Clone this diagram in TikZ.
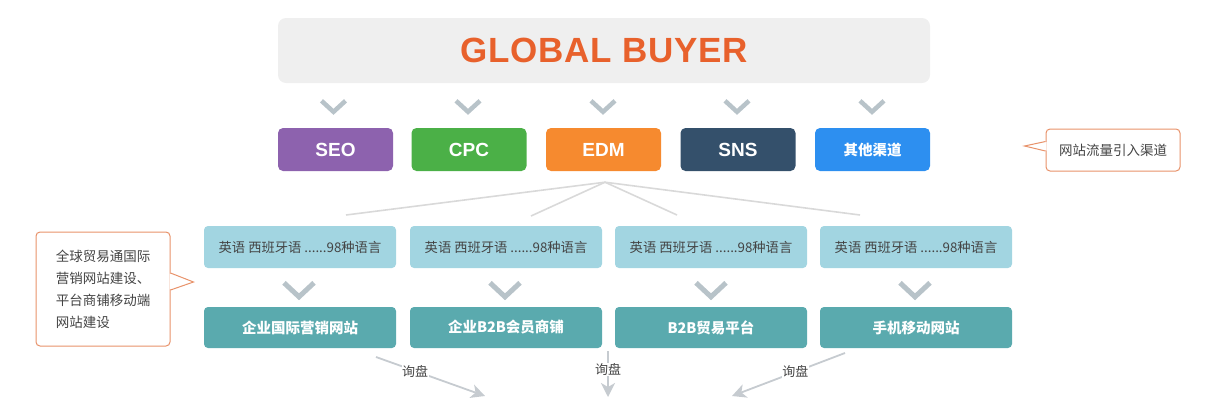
\documentclass[tikz,border=0pt]{standalone}
\usepackage{fontspec}
\setmainfont{Liberation Sans}
\newfontfamily\cjk{Noto Sans CJK SC}
\usetikzlibrary{calc,arrows.meta}

\definecolor{buyerorange}{HTML}{E8612C}
\definecolor{titlegray}{HTML}{EFEFEF}
\definecolor{seopurple}{HTML}{8D62AE}
\definecolor{cpcgreen}{HTML}{4BB047}
\definecolor{edmorange}{HTML}{F68A2F}
\definecolor{snsblue}{HTML}{34506B}
\definecolor{otherblue}{HTML}{2D8FF0}
\definecolor{langblue}{HTML}{A2D5E1}
\definecolor{siteteal}{HTML}{5AAAAE}
\definecolor{chevgray}{HTML}{B8C3C9}
\definecolor{fangray}{HTML}{D9D9D9}
\definecolor{askgray}{HTML}{C6CBD0}
\definecolor{callorange}{HTML}{E8926A}
\definecolor{textgray}{HTML}{444444}

\begin{document}
\begin{tikzpicture}[x=1pt,y=-1pt,
  chan/.style={rounded corners=5pt, minimum width=115pt, minimum height=43pt, text=white, font=\fontsize{19}{19}\selectfont\bfseries},
  lang/.style={fill=langblue, rounded corners=4pt, minimum width=192pt, minimum height=42pt, text=textgray, font=\cjk\fontsize{13.3}{13.3}\selectfont},
  site/.style={fill=siteteal, rounded corners=4pt, minimum width=192pt, minimum height=41pt, text=white, font=\cjk\bfseries\fontsize{14.5}{14.5}\selectfont},
  chev/.style={draw=chevgray, line width=4.5pt, line join=miter},
  fanline/.style={draw=fangray, line width=1.6pt},
  ask/.style={draw=askgray, line width=1.8pt, -{Stealth[length=14pt,width=14pt,inset=4pt]}},
  asklbl/.style={fill=white, inner sep=0.5pt, text=textgray, font=\cjk\fontsize{13}{13}\selectfont},
  callout/.style={draw=callorange, line width=1pt, rounded corners=4pt, fill=white, text=textgray, font=\cjk\fontsize{13.5}{22}\selectfont},
  callline/.style={draw=callorange, line width=1pt, line join=miter}]
\useasboundingbox (0,0) rectangle (1219,400);

% title
\node[fill=titlegray, rounded corners=8pt, minimum width=652pt, minimum height=65pt, text=buyerorange, font=\fontsize{35}{35}\selectfont\bfseries\addfontfeature{LetterSpace=2}] (buyer) at (604,50.5) {GLOBAL BUYER};

% channels
\node[chan, fill=seopurple] (seo) at (335.5,149.5) {SEO};
\node[chan, fill=cpcgreen] (cpc) at (469,149.5) {CPC};
\node[chan, fill=edmorange] (edm) at (603.5,149.5) {EDM};
\node[chan, fill=snsblue] (sns) at (738,149.5) {SNS};
\node[chan, fill=otherblue, font=\cjk\bfseries\fontsize{14.5}{14.5}\selectfont] (other) at (872.5,149.5) {其他渠道};

\draw[chev] ($(seo.north)+(-14,-27)$) -- ++(12,11) -- ++(12,-11);
\draw[chev] ($(cpc.north)+(-13,-27)$) -- ++(12,11) -- ++(12,-11);
\draw[chev] ($(edm.north)+(-12.5,-27)$) -- ++(12,11) -- ++(12,-11);
\draw[chev] ($(sns.north)+(-13,-27)$) -- ++(12,11) -- ++(12,-11);
\draw[chev] ($(other.north)+(-12.5,-27)$) -- ++(12,11) -- ++(12,-11);

% languages
\node[lang] (lang1) at (300,247) {英语 西班牙语 ......98种语言};
\node[lang] (lang2) at (506,247) {英语 西班牙语 ......98种语言};
\node[lang] (lang3) at (711,247) {英语 西班牙语 ......98种语言};
\node[lang] (lang4) at (916,247) {英语 西班牙语 ......98种语言};

\coordinate (fan) at ($(edm.south)+(1.5,11)$);
\coordinate (fan1) at (346,215);
\coordinate (fan2) at (531,216);
\coordinate (fan3) at (677,215);
\coordinate (fan4) at (860,215);
\path[fanline] (fan) -- (fan1);
\path[fanline] (fan) -- (fan2);
\path[fanline] (fan) -- (fan3);
\path[fanline] (fan) -- (fan4);

% sites
\node[site] (site1) at (300,327.5) {企业国际营销网站};
\node[site] (site2) at (506,327.5) {企业B2B会员商铺};
\node[site] (site3) at (711,327.5) {B2B贸易平台};
\node[site] (site4) at (916,327.5) {手机移动网站};

\draw[chev, line width=5pt] ($(site1.north)+(-16,-24)$) -- ++(15,14) -- ++(15,-14);
\draw[chev, line width=5pt] ($(site2.north)+(-16,-24)$) -- ++(15,14) -- ++(15,-14);
\draw[chev, line width=5pt] ($(site3.north)+(-15,-24)$) -- ++(15,14) -- ++(15,-14);
\draw[chev, line width=5pt] ($(site4.north)+(-16,-24)$) -- ++(15,14) -- ++(15,-14);

% enquiries
\coordinate (ask1) at (376,357);
\coordinate (in1) at (485,396);
\coordinate (ask2) at (608,351);
\coordinate (in2) at (608,397);
\coordinate (ask3) at (845,353);
\coordinate (in3) at (732,396);
\path[ask] (ask1) -- node[asklbl, pos=0.36] (lbl1) {询盘} (in1);
\path[ask] (ask2) -- node[asklbl, pos=0.40] (lbl2) {询盘} (in2);
\path[ask] (ask3) -- node[asklbl, pos=0.44] (lbl3) {询盘} (in3);

% callouts
\node[callout, align=left, minimum width=134pt, minimum height=114pt] (lcall) at (103,289) {全球贸易通国际\\营销网站建设、\\平台商铺移动端\\网站建设};
\fill[white] ($(lcall.east)+(-1,-15.5)$) -- ($(lcall.east)+(23,-7)$) -- ($(lcall.east)+(-1,0.5)$) -- cycle;
\path[callline] ($(lcall.east)+(0,-16)$) -- ($(lcall.east)+(23,-7)$) -- ($(lcall.east)+(0,1)$);

\node[callout, minimum width=134pt, minimum height=42pt] (rcall) at (1113,150) {网站流量引入渠道};
\fill[white] ($(rcall.west)+(1,-8)$) -- ($(rcall.west)+(-21,-4)$) -- ($(rcall.west)+(1,0.5)$) -- cycle;
\path[callline] ($(rcall.west)+(0,-8.5)$) -- ($(rcall.west)+(-21,-4)$) -- ($(rcall.west)+(0,1)$);
\end{tikzpicture}
\end{document}
